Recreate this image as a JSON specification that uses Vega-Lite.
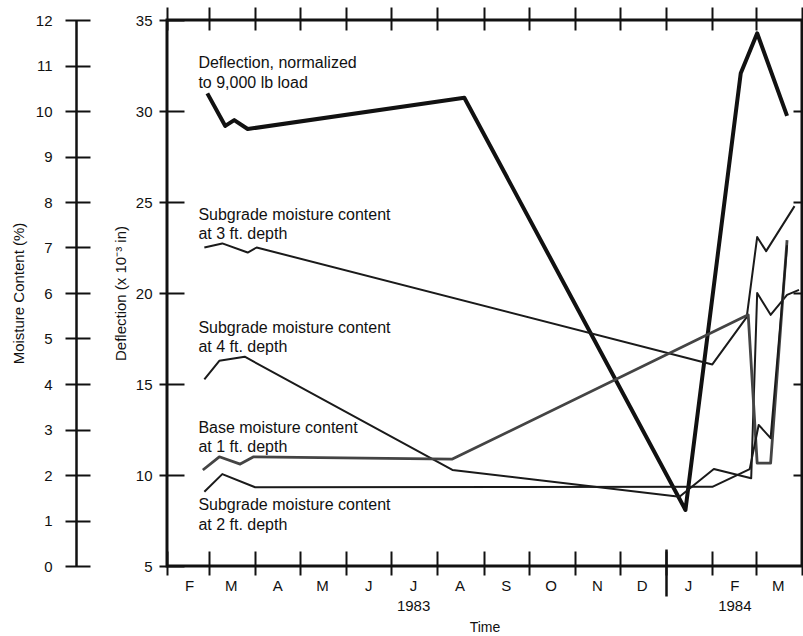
{
  "$schema": "https://vega.github.io/schema/vega-lite/v6.json",
  "width": 635,
  "height": 546,
  "autosize": {"type": "none"},
  "padding": {"left": 167, "top": 20, "right": 1, "bottom": 70},
  "background": "white",
  "config": {
    "view": {"stroke": "#111", "strokeWidth": 3},
    "font": "Liberation Sans",
    "axis": {
      "grid": false,
      "labelFont": "Liberation Sans",
      "titleFont": "Liberation Sans",
      "labelColor": "#111",
      "titleColor": "#111",
      "tickColor": "#111",
      "domainColor": "#111",
      "labelFontSize": 15,
      "titleFontSize": 15,
      "titleFontWeight": "normal"
    }
  },
  "datasets": {
    "deflection": [
      {"date": "1983-02-28", "deflection": 30.97},
      {"date": "1983-03-12", "deflection": 29.18},
      {"date": "1983-03-18", "deflection": 29.5},
      {"date": "1983-03-27", "deflection": 29.01},
      {"date": "1983-08-19", "deflection": 30.73},
      {"date": "1984-01-14", "deflection": 8.08},
      {"date": "1984-02-20", "deflection": 32.07},
      {"date": "1984-03-02", "deflection": 34.27},
      {"date": "1984-03-22", "deflection": 29.73}
    ],
    "moisture": [
      {"series": "Subgrade 3 ft", "date": "1983-02-26", "moisture": 7.0},
      {"series": "Subgrade 3 ft", "date": "1983-03-10", "moisture": 7.09},
      {"series": "Subgrade 3 ft", "date": "1983-03-27", "moisture": 6.89},
      {"series": "Subgrade 3 ft", "date": "1983-04-02", "moisture": 7.0},
      {"series": "Subgrade 3 ft", "date": "1984-02-01", "moisture": 4.43},
      {"series": "Subgrade 3 ft", "date": "1984-02-24", "moisture": 5.47},
      {"series": "Subgrade 3 ft", "date": "1984-03-02", "moisture": 7.23},
      {"series": "Subgrade 3 ft", "date": "1984-03-08", "moisture": 6.92},
      {"series": "Subgrade 3 ft", "date": "1984-03-27", "moisture": 7.91},
      {"series": "Subgrade 4 ft", "date": "1983-02-26", "moisture": 4.1},
      {"series": "Subgrade 4 ft", "date": "1983-03-08", "moisture": 4.51},
      {"series": "Subgrade 4 ft", "date": "1983-03-25", "moisture": 4.6},
      {"series": "Subgrade 4 ft", "date": "1983-08-11", "moisture": 2.11},
      {"series": "Subgrade 4 ft", "date": "1984-01-10", "moisture": 1.52},
      {"series": "Subgrade 4 ft", "date": "1984-02-02", "moisture": 2.13},
      {"series": "Subgrade 4 ft", "date": "1984-02-27", "moisture": 1.93},
      {"series": "Subgrade 4 ft", "date": "1984-03-02", "moisture": 6.0},
      {"series": "Subgrade 4 ft", "date": "1984-03-11", "moisture": 5.52},
      {"series": "Subgrade 4 ft", "date": "1984-03-22", "moisture": 5.96},
      {"series": "Subgrade 4 ft", "date": "1984-03-30", "moisture": 6.07},
      {"series": "Base 1 ft", "date": "1983-02-25", "moisture": 2.11},
      {"series": "Base 1 ft", "date": "1983-03-08", "moisture": 2.4},
      {"series": "Base 1 ft", "date": "1983-03-22", "moisture": 2.24},
      {"series": "Base 1 ft", "date": "1983-03-31", "moisture": 2.4},
      {"series": "Base 1 ft", "date": "1983-08-11", "moisture": 2.35},
      {"series": "Base 1 ft", "date": "1984-02-25", "moisture": 5.52},
      {"series": "Base 1 ft", "date": "1984-03-02", "moisture": 2.26},
      {"series": "Base 1 ft", "date": "1984-03-11", "moisture": 2.26},
      {"series": "Base 1 ft", "date": "1984-03-22", "moisture": 7.16},
      {"series": "Subgrade 2 ft", "date": "1983-02-26", "moisture": 1.63},
      {"series": "Subgrade 2 ft", "date": "1983-03-10", "moisture": 2.02},
      {"series": "Subgrade 2 ft", "date": "1983-04-01", "moisture": 1.73},
      {"series": "Subgrade 2 ft", "date": "1984-02-01", "moisture": 1.74},
      {"series": "Subgrade 2 ft", "date": "1984-02-26", "moisture": 2.13},
      {"series": "Subgrade 2 ft", "date": "1984-03-03", "moisture": 3.1},
      {"series": "Subgrade 2 ft", "date": "1984-03-11", "moisture": 2.81},
      {"series": "Subgrade 2 ft", "date": "1984-03-22", "moisture": 7.05}
    ],
    "mlabels": [
      {"date": "1983-02-22", "moisture": 7.6, "label": "Subgrade moisture content"},
      {"date": "1983-02-22", "moisture": 7.19, "label": "at 3 ft. depth"},
      {"date": "1983-02-22", "moisture": 5.12, "label": "Subgrade moisture content"},
      {"date": "1983-02-22", "moisture": 4.7, "label": "at 4 ft. depth"},
      {"date": "1983-02-22", "moisture": 2.92, "label": "Base moisture content"},
      {"date": "1983-02-22", "moisture": 2.51, "label": "at 1 ft. depth"},
      {"date": "1983-02-22", "moisture": 1.22, "label": "Subgrade moisture content"},
      {"date": "1983-02-22", "moisture": 0.79, "label": "at 2 ft. depth"}
    ],
    "dlabels": [
      {"date": "1983-02-22", "deflection": 32.34, "label": "Deflection, normalized"},
      {"date": "1983-02-22", "deflection": 31.26, "label": "to 9,000 lb load"}
    ]
  },
  "layer": [
    {
      "data": {"name": "deflection"},
      "mark": {"type": "line", "color": "#111", "strokeWidth": 4, "strokeJoin": "round"},
      "encoding": {
        "x": {
          "field": "date", "type": "temporal",
          "scale": {"type": "utc", "domain": [{"year": 1983, "month": 2, "date": 1, "utc": true}, {"year": 1984, "month": 4, "date": 1, "utc": true}]},
          "axis": {
            "orient": "bottom",
            "values": [
              {"year": 1983, "month": 2, "date": 1, "utc": true},
              {"year": 1983, "month": 3, "date": 1, "utc": true},
              {"year": 1983, "month": 4, "date": 1, "utc": true},
              {"year": 1983, "month": 5, "date": 1, "utc": true},
              {"year": 1983, "month": 6, "date": 1, "utc": true},
              {"year": 1983, "month": 7, "date": 1, "utc": true},
              {"year": 1983, "month": 8, "date": 1, "utc": true},
              {"year": 1983, "month": 9, "date": 1, "utc": true},
              {"year": 1983, "month": 10, "date": 1, "utc": true},
              {"year": 1983, "month": 11, "date": 1, "utc": true},
              {"year": 1983, "month": 12, "date": 1, "utc": true},
              {"year": 1984, "month": 1, "date": 1, "utc": true},
              {"year": 1984, "month": 2, "date": 1, "utc": true},
              {"year": 1984, "month": 3, "date": 1, "utc": true},
              {"year": 1984, "month": 4, "date": 1, "utc": true}
            ],
            "offset": -15,
            "tickSize": 24,
            "tickWidth": 2,
            "domain": false,
            "labelExpr": "(utcyear(datum.value) == 1984 && utcmonth(datum.value) == 3) ? '' : ((utcyear(datum.value) == 1983 && utcmonth(datum.value) == 6) ? ['J', '1983'] : ((utcyear(datum.value) == 1984 && utcmonth(datum.value) == 1) ? ['F', '1984'] : slice(utcFormat(datum.value, '%b'), 0, 1)))",
            "labelOffset": 22,
            "labelPadding": 3,
            "labelOverlap": false,
            "labelFlush": false,
            "labelBound": false,
            "labelLineHeight": 20,
            "title": "Time",
            "titleFontSize": 14,
            "titlePadding": 7
          }
        },
        "y": {
          "field": "deflection", "type": "quantitative",
          "scale": {"domain": [5, 35], "nice": false, "zero": false},
          "axis": {
            "orient": "left",
            "values": [5, 10, 15, 20, 25, 30, 35],
            "offset": -17,
            "tickSize": 25,
            "tickWidth": 2,
            "domain": false,
            "labelPadding": 7,
            "title": "Deflection (x 10⁻³ in)",
            "titlePadding": 7
          }
        }
      }
    },
    {
      "data": {"name": "moisture"},
      "mark": {"type": "line", "strokeJoin": "round"},
      "encoding": {
        "x": {
          "field": "date", "type": "temporal",
          "scale": {"type": "utc", "domain": [{"year": 1983, "month": 2, "date": 1, "utc": true}, {"year": 1984, "month": 4, "date": 1, "utc": true}]},
          "axis": {
            "orient": "top",
            "values": [
              {"year": 1983, "month": 2, "date": 1, "utc": true},
              {"year": 1983, "month": 3, "date": 1, "utc": true},
              {"year": 1983, "month": 4, "date": 1, "utc": true},
              {"year": 1983, "month": 5, "date": 1, "utc": true},
              {"year": 1983, "month": 6, "date": 1, "utc": true},
              {"year": 1983, "month": 7, "date": 1, "utc": true},
              {"year": 1983, "month": 8, "date": 1, "utc": true},
              {"year": 1983, "month": 9, "date": 1, "utc": true},
              {"year": 1983, "month": 10, "date": 1, "utc": true},
              {"year": 1983, "month": 11, "date": 1, "utc": true},
              {"year": 1983, "month": 12, "date": 1, "utc": true},
              {"year": 1984, "month": 1, "date": 1, "utc": true},
              {"year": 1984, "month": 2, "date": 1, "utc": true},
              {"year": 1984, "month": 3, "date": 1, "utc": true},
              {"year": 1984, "month": 4, "date": 1, "utc": true}
            ],
            "offset": -10,
            "tickSize": 23,
            "tickWidth": 2,
            "domain": false,
            "labels": false,
            "title": null
          }
        },
        "y": {
          "field": "moisture", "type": "quantitative",
          "scale": {"domain": [0, 12], "nice": false, "zero": false},
          "axis": {
            "orient": "left",
            "values": [0, 1, 2, 3, 4, 5, 6, 7, 8, 9, 10, 11, 12],
            "offset": 77,
            "tickSize": 25,
            "tickWidth": 2,
            "domain": false,
            "labelPadding": 13,
            "title": "Moisture Content (%)",
            "titlePadding": 9
          }
        },
        "color": {
          "field": "series", "type": "nominal",
          "scale": {"domain": ["Subgrade 3 ft", "Subgrade 4 ft", "Base 1 ft", "Subgrade 2 ft"], "range": ["#1a1a1a", "#1a1a1a", "#444444", "#1a1a1a"]},
          "legend": null
        },
        "strokeWidth": {
          "field": "series", "type": "nominal",
          "scale": {"type": "ordinal", "domain": ["Subgrade 3 ft", "Subgrade 4 ft", "Base 1 ft", "Subgrade 2 ft"], "range": [2, 2, 2.8, 2]},
          "legend": null
        }
      }
    },
    {
      "data": {"name": "mlabels"},
      "mark": {"type": "text", "align": "left", "baseline": "alphabetic", "fontSize": 16, "font": "Liberation Sans", "color": "#111"},
      "encoding": {
        "x": {
          "field": "date", "type": "temporal",
          "scale": {"type": "utc", "domain": [{"year": 1983, "month": 2, "date": 1, "utc": true}, {"year": 1984, "month": 4, "date": 1, "utc": true}]},
          "axis": null
        },
        "y": {
          "field": "moisture", "type": "quantitative",
          "scale": {"domain": [0, 12], "nice": false, "zero": false},
          "axis": {
            "orient": "left",
            "offset": 91,
            "domain": true,
            "domainWidth": 2.5,
            "ticks": false,
            "labels": false,
            "title": null
          }
        },
        "text": {"field": "label", "type": "nominal"}
      }
    },
    {
      "data": {"name": "dlabels"},
      "mark": {"type": "text", "align": "left", "baseline": "alphabetic", "fontSize": 16, "font": "Liberation Sans", "color": "#111"},
      "encoding": {
        "x": {
          "field": "date", "type": "temporal",
          "scale": {"type": "utc", "domain": [{"year": 1983, "month": 2, "date": 1, "utc": true}, {"year": 1984, "month": 4, "date": 1, "utc": true}]},
          "axis": {
            "orient": "bottom",
            "values": [{"year": 1984, "month": 1, "date": 1, "utc": true}],
            "offset": -17,
            "tickSize": 47,
            "tickWidth": 2.5,
            "domain": false,
            "labels": false,
            "title": null
          }
        },
        "y": {
          "field": "deflection", "type": "quantitative",
          "scale": {"domain": [5, 35], "nice": false, "zero": false},
          "axis": {
            "orient": "right",
            "values": [10, 15, 20, 25, 30],
            "tickSize": -9,
            "tickWidth": 2,
            "domain": false,
            "labels": false,
            "title": null
          }
        },
        "text": {"field": "label", "type": "nominal"}
      }
    }
  ],
  "resolve": {
    "scale": {"y": "independent"},
    "axis": {"x": "independent", "y": "independent"}
  }
}
